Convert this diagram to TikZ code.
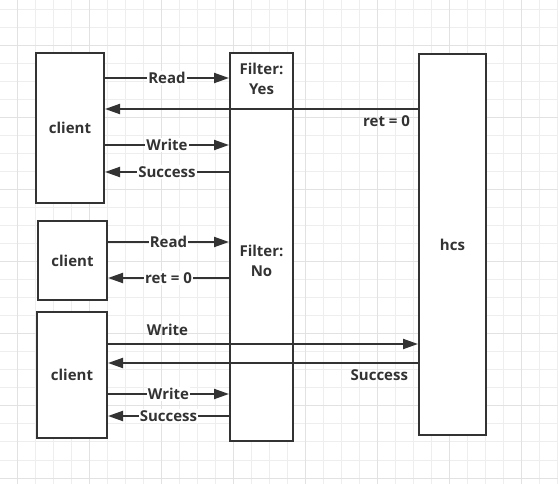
\documentclass[tikz,border=0pt]{standalone}
\usepackage{fontspec}
\newfontfamily\diafont{Open Sans}
\usetikzlibrary{arrows.meta}
\definecolor{ink}{HTML}{333333}
\definecolor{gridminor}{HTML}{EEEEEE}
\definecolor{gridmajor}{HTML}{E2E2E2}
\tikzset{
	box/.style={draw=ink, line width=2pt, fill=white, inner sep=0pt, text=ink, font=\diafont\bfseries\fontsize{15}{20}\selectfont},
	msg/.style={draw=ink, line width=2pt, -{Triangle[length=15pt,width=10pt]}},
	lbl/.style={fill=white, inner sep=1pt, text=ink, font=\diafont\bfseries\fontsize{15}{20}\selectfont},
	tag/.style={inner xsep=7pt, inner ysep=6pt, text=ink, font=\diafont\bfseries\fontsize{15}{20}\selectfont},
}

\begin{document}
\begin{tikzpicture}[x=1pt,y=-1pt]
			%%%%% GRID %%%%%
			\useasboundingbox (0,0) rectangle (558,484);
			\fill[white] (0,0) rectangle (558,484);
			\foreach \i in {0,...,30} \draw[gridminor, line width=1pt] ({17.3+18*\i},0) -- ({17.3+18*\i},484);
			\foreach \j in {0,...,26} \draw[gridminor, line width=1pt] (0,{10+18*\j}) -- (558,{10+18*\j});
			\foreach \i in {0,...,7} \draw[gridmajor, line width=1pt] ({17.3+72*\i},0) -- ({17.3+72*\i},484);
			\foreach \j in {0,...,6} \draw[gridmajor, line width=1pt] (0,{46+72*\j}) -- (558,{46+72*\j});
			
			%%%%% BOXES %%%%%
			\node[box, minimum width=68pt, minimum height=150pt] (client1) at (70,128) {client};
			\node[box, minimum width=69pt, minimum height=79pt] (client2) at (72.5,260.5) {client};
			\node[box, minimum width=70pt, minimum height=126pt] (client3) at (72,375) {client};
			\node[box, minimum width=63pt, minimum height=388pt] (filter) at (261.5,247) {};
			\node[box, minimum width=67pt, minimum height=381pt] (hcs) at (452.5,244.5) {hcs};
			
			\node[tag, align=center] (ftyes) at (261.5,79) {Filter:\\Yes};
			\node[tag, align=center] (ftno) at (261.5,261) {Filter:\\No};
			
			%%%%% MESSAGES %%%%%
			\draw[msg] (client1.east |- 0,78) -- node[lbl] {Read} (filter.west |- 0,78);
			\draw[msg] (hcs.west |- 0,109) -- node[tag, at start, anchor=north east] {ret = 0} (client1.east |- 0,109);
			\draw[msg] (client1.east |- 0,145) -- node[lbl] {Write} (filter.west |- 0,145);
			\draw[msg] (filter.west |- 0,172) -- node[lbl] {Success} (client1.east |- 0,172);
			
			\draw[msg] (client2.east |- 0,242) -- node[lbl] {Read} (filter.west |- 0,242);
			\draw[msg] (filter.west |- 0,278) -- node[lbl] {ret = 0} (client2.east |- 0,278);
			
			\draw[msg] (client3.east |- 0,344) -- node[tag, pos=0.192, anchor=south, inner ysep=7pt] {Write} (hcs.west |- 0,344);
			\draw[msg] (hcs.west |- 0,363) -- node[tag, at start, anchor=north east, inner xsep=9pt] {Success} (client3.east |- 0,363);
			\draw[msg] (client3.east |- 0,394) -- node[lbl] {Write} (filter.west |- 0,394);
			\draw[msg] (filter.west |- 0,416) -- node[lbl] {Success} (client3.east |- 0,416);
		\end{tikzpicture}
\end{document}
